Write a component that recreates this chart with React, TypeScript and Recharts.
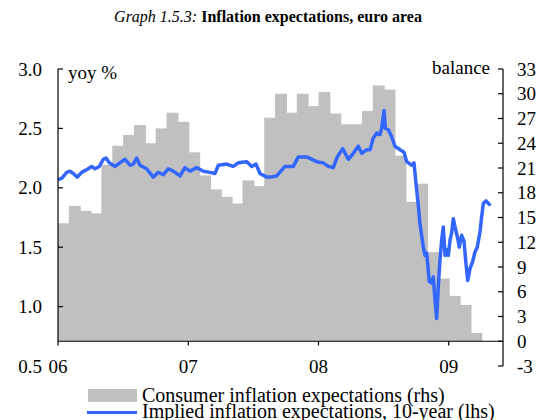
import React from 'react';
import { ComposedChart, Bar, Line, XAxis, YAxis, ReferenceLine, Legend } from 'recharts';

// Monthly categories (Jan 2006 – May 2009)
const months = [
  '2006-01', '2006-02', '2006-03', '2006-04', '2006-05', '2006-06', '2006-07', '2006-08', '2006-09', '2006-10', '2006-11', '2006-12',
  '2007-01', '2007-02', '2007-03', '2007-04', '2007-05', '2007-06', '2007-07', '2007-08', '2007-09', '2007-10', '2007-11', '2007-12',
  '2008-01', '2008-02', '2008-03', '2008-04', '2008-05', '2008-06', '2008-07', '2008-08', '2008-09', '2008-10', '2008-11', '2008-12',
  '2009-01', '2009-02', '2009-03', '2009-04', '2009-05',
];

// Consumer inflation expectations (balance, rhs)
const consumerExpectations: (number | null)[] = [
  14.3, 16.4, 15.8, 15.5, 21.4, 23.7, 25.0, 26.2, 24.0, 25.8, 27.7, 26.6,
  22.9, 20.1, 18.4, 17.5, 16.7, 19.5, 18.8, 27.1, 30.0, 27.7, 30.0, 28.5,
  30.2, 27.6, 26.3, 26.3, 27.9, 31.0, 30.5, 22.5, 16.9, 19.1, 10.8, 7.6,
  5.5, 4.4, 1.0, null, null,
];

// Implied inflation expectations, 10-year (yoy %, lhs): time in months since Jan 2006
const impliedTime = [
  0, 0.34, 0.8, 1.11, 1.41, 1.78, 2.18, 2.79, 3.1, 3.41, 3.81, 4.17, 4.42, 4.73, 5.25, 5.71, 6.17, 6.63, 6.94, 7.25,
  7.55, 8.17, 8.78, 9.24, 9.7, 10.16, 10.62, 11.24, 11.7, 12.16, 12.78, 13.39, 14.0, 14.46, 14.77, 15.54, 16.15, 16.61, 17.39, 17.85,
  18.24, 18.61, 19.23, 19.53, 20.15, 20.91, 21.68, 22.14, 22.91, 23.83, 24.44, 24.9, 25.36, 25.73, 26.23, 26.75, 27.21, 27.67, 27.98, 28.44,
  28.75, 29.05, 29.36, 29.67, 29.82, 30.04, 30.16, 30.43, 30.74, 31.05, 31.51, 31.88, 32.13, 32.59, 32.8, 33.0, 33.2, 33.35, 33.5, 33.66,
  33.81, 33.97, 34.21, 34.43, 34.58, 34.73, 34.89, 35.04, 35.19, 35.35, 35.5, 35.66, 35.81, 35.96, 36.12, 36.27, 36.42, 36.58, 36.79, 36.97,
  37.19, 37.41, 37.59, 37.75, 37.96, 38.21, 38.42, 38.63, 38.88, 39.04, 39.19, 39.44, 39.74,
];
const impliedValues = [
  2.07, 2.08, 2.13, 2.14, 2.12, 2.09, 2.13, 2.16, 2.18, 2.16, 2.18, 2.24, 2.25, 2.21, 2.18, 2.21, 2.24, 2.19, 2.2, 2.25,
  2.19, 2.16, 2.09, 2.13, 2.11, 2.16, 2.14, 2.1, 2.17, 2.14, 2.17, 2.14, 2.13, 2.12, 2.19, 2.2, 2.18, 2.21, 2.22, 2.18,
  2.2, 2.12, 2.09, 2.09, 2.1, 2.18, 2.18, 2.26, 2.26, 2.22, 2.21, 2.18, 2.17, 2.26, 2.33, 2.24, 2.29, 2.35, 2.29, 2.32,
  2.32, 2.42, 2.46, 2.45, 2.5, 2.65, 2.5, 2.49, 2.43, 2.35, 2.32, 2.3, 2.22, 2.19, 2.21, 2.02, 1.85, 1.7, 1.6, 1.5,
  1.43, 1.45, 1.21, 1.2, 1.25, 1.06, 0.9, 1.17, 1.39, 1.56, 1.67, 1.43, 1.48, 1.43, 1.56, 1.62, 1.74, 1.67, 1.59, 1.5,
  1.6, 1.55, 1.36, 1.22, 1.32, 1.38, 1.46, 1.5, 1.63, 1.76, 1.87, 1.89, 1.86,
];

const yearTicks = [0, 12, 24, 36];
const yearLabels = ['06', '07', '08', '09'];
const leftTicks = [0.5, 1.0, 1.5, 2.0, 2.5, 3.0];
const rightTicks = [-3, 0, 3, 6, 9, 12, 15, 18, 21, 24, 27, 30, 33];

const barData = months.map((m, i) => ({ month: m, cons: consumerExpectations[i] }));
const lineData = impliedTime.map((t, i) => ({ t, implied: impliedValues[i] }));

const FONT = '"Liberation Serif", "Times New Roman", serif';
const GREY = '#C0C0C0';
const BLUE = '#3366FF';

const LeftTick = (props: any) => {
  const { x, y, payload } = props;
  const v = payload.value as number;
  return (
    <g>
      {v >= 1 && <line x1={x + 16} x2={x + 21} y1={y} y2={y} stroke="#000" strokeWidth={1.2} />}
      <text x={x} y={y} dy="0.35em" textAnchor="end" fontSize={19} fontFamily={FONT} fill="#000">
        {v.toFixed(1)}
      </text>
    </g>
  );
};

const RightTick = (props: any) => {
  const { x, y, payload } = props;
  const v = payload.value as number;
  return (
    <g>
      <line x1={x - 14} x2={x - 19} y1={y} y2={y} stroke="#000" strokeWidth={1.2} />
      <text x={x} y={y} dy="0.35em" textAnchor="start" fontSize={19} fontFamily={FONT} fill="#000">
        {String(v)}
      </text>
    </g>
  );
};

const XTick = (props: any) => {
  const { x, y, payload } = props;
  const idx = yearTicks.indexOf(payload.value);
  return (
    <text x={x} y={y} dy={7} textAnchor="middle" fontSize={19} fontFamily={FONT} fill="#000">
      {idx >= 0 ? yearLabels[idx] : ''}
    </text>
  );
};

const BarShape = (props: any) => {
  const { x, y, width, height } = props;
  if (height == null || !(height > 0)) return null;
  return <rect x={x} y={y} width={width + 0.9} height={height} fill={GREY} />;
};

const LegendContent = () => (
  <div style={{ position: 'relative', width: 536, height: 40, fontFamily: FONT, fontSize: 20, color: '#000' }}>
    <div style={{ position: 'absolute', left: 88, top: 9, width: 49, height: 12.5, background: GREY }} />
    <div style={{ position: 'absolute', left: 142, top: 6.5, lineHeight: '16px', whiteSpace: 'nowrap' }}>
      Consumer inflation expectations (rhs)
    </div>
    <div style={{ position: 'absolute', left: 87, top: 30.5, width: 50, height: 3, background: BLUE }} />
    <div style={{ position: 'absolute', left: 142, top: 22.5, lineHeight: '16px', whiteSpace: 'nowrap' }}>
      Implied inflation expectations, 10-year (lhs)
    </div>
  </div>
);

export default function App() {
  return (
    <div style={{ position: 'absolute', left: 0, top: 0, width: 536, height: 420, overflow: 'hidden', background: '#fff', fontFamily: FONT }}>
      <div style={{ position: 'absolute', left: 0, top: 7, width: 536, textAlign: 'center', fontSize: 16, lineHeight: '20px', whiteSpace: 'nowrap' }}>
        <span style={{ fontStyle: 'italic' }}>Graph 1.5.3:</span>{' '}
        <span style={{ fontWeight: 'bold' }}>Inflation expectations, euro area</span>
      </div>
      <div style={{ position: 'absolute', left: 68, top: 62, fontSize: 19, lineHeight: '22px', whiteSpace: 'nowrap' }}>yoy %</div>
      <div style={{ position: 'absolute', right: 46, top: 57, fontSize: 19, lineHeight: '22px', whiteSpace: 'nowrap' }}>balance</div>
      <div style={{ position: 'absolute', left: 0, top: 0 }}>
        <ComposedChart
          width={536}
          height={420}
          data={barData}
          margin={{ top: 69, right: 0, bottom: 24, left: 8 }}
          barCategoryGap={0}
          barGap={0}
        >
          <XAxis
            xAxisId="line"
            dataKey="t"
            type="number"
            orientation="bottom"
            domain={[0, 41]}
            ticks={yearTicks}
            allowDataOverflow
            height={30}
            axisLine={false}
            tickLine={false}
            tickSize={0}
            tickMargin={0}
            tick={<XTick />}
            interval={0}
          />
          <XAxis xAxisId="bars" dataKey="month" type="category" orientation="top" hide height={0} padding={{ left: 0, right: 0 }} />
          <YAxis
            yAxisId="left"
            orientation="left"
            width={50}
            type="number"
            domain={[0.5, 3.0]}
            ticks={leftTicks}
            allowDataOverflow
            axisLine={false}
            tickLine={false}
            tickSize={0}
            tickMargin={16}
            tick={<LeftTick />}
            interval={0}
          />
          <YAxis
            yAxisId="right"
            orientation="right"
            width={33}
            type="number"
            domain={[-3, 33]}
            ticks={rightTicks}
            allowDataOverflow
            axisLine={{ stroke: '#000', strokeWidth: 1.2 }}
            tickLine={false}
            tickSize={0}
            tickMargin={14}
            tick={<RightTick />}
            interval={0}
          />
          <Bar
            xAxisId="bars"
            yAxisId="right"
            dataKey="cons"
            name="Consumer inflation expectations (rhs)"
            fill={GREY}
            shape={<BarShape />}
            isAnimationActive={false}
          />
          <Line
            xAxisId="line"
            yAxisId="left"
            data={lineData}
            dataKey="implied"
            name="Implied inflation expectations, 10-year (lhs)"
            type="linear"
            stroke={BLUE}
            strokeWidth={3.5}
            strokeLinejoin="round"
            strokeLinecap="round"
            dot={false}
            activeDot={false}
            isAnimationActive={false}
          />
          <ReferenceLine xAxisId="line" yAxisId="right" y={0} stroke="#000" strokeWidth={1.2} />
          <ReferenceLine
            xAxisId="line"
            yAxisId="right"
            segment={[{ x: 0, y: 0 }, { x: 0, y: 33 }]}
            stroke="#000"
            strokeWidth={1.2}
          />
          {yearTicks.map((t) => (
            <ReferenceLine
              key={t}
              xAxisId="line"
              yAxisId="right"
              segment={[{ x: t, y: 0 }, { x: t, y: -0.5 }]}
              stroke="#000"
              strokeWidth={1.2}
            />
          ))}
          <Legend
            layout="horizontal"
            verticalAlign="middle"
            align="center"
            content={<LegendContent />}
            wrapperStyle={{ position: 'absolute', left: 0, top: 380, width: 536, height: 40 }}
          />
        </ComposedChart>
      </div>
    </div>
  );
}
